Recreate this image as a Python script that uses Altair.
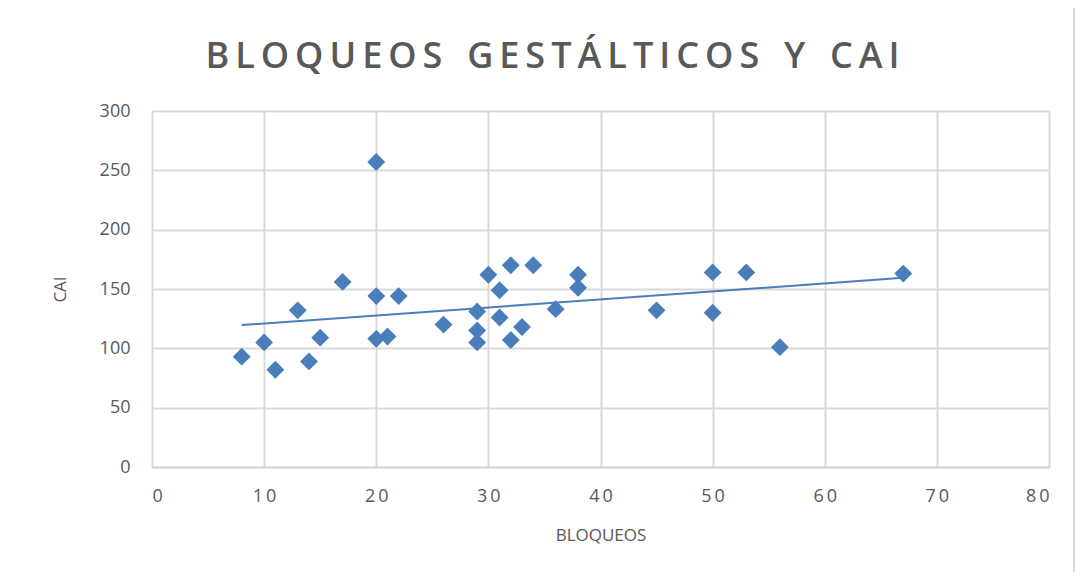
import altair as alt
import pandas as pd

bloqueos = [8, 10, 11, 13, 14, 15, 17, 20, 20, 20, 21, 22, 26, 29, 29, 29, 30, 31, 31, 32, 32, 33, 34, 36, 38, 38, 45, 50, 50, 53, 56, 67]
cai = [93, 105, 82, 132, 89, 109, 156, 257, 144, 108, 110, 144, 120, 131, 115, 105, 162, 149, 126, 170, 107, 118, 170, 133, 162, 151, 132, 164, 130, 164, 101, 163]

x_ticks = [0, 10, 20, 30, 40, 50, 60, 70, 80]
y_ticks = [0, 50, 100, 150, 200, 250, 300]

title_text = "BLOQUEOS  GESTÁLTICOS  Y  CAI"

df = pd.DataFrame({"BLOQUEOS": bloqueos, "CAI": cai})

BLUE = "#4A7EBB"
GRAY = "#595959"
GRID = "#D9D9D9"
FONT = "Open Sans"

# letter-spaced rendering of the title (narrow spaces between letters, wider gaps between words)
spaced_title = "\u00a0\u2006\u00a0".join("\u2006".join(w) for w in title_text.split())

x_enc = alt.X("BLOQUEOS:Q",
              scale=alt.Scale(domain=[0, 80], nice=False),
              axis=alt.Axis(values=x_ticks, title="BLOQUEOS", labelPadding=20, titlePadding=22,
                            labelExpr="replace(datum.label, /(\\d)(?=\\d)/g, '$1\u2009')"))
y_enc = alt.Y("CAI:Q",
              scale=alt.Scale(domain=[0, 300], nice=False),
              axis=alt.Axis(values=y_ticks, title="CAI", labelPadding=22, titlePadding=30))

points = alt.Chart(df).mark_point(shape="diamond", filled=True, size=320, color=BLUE, opacity=1).encode(
    x=x_enc, y=y_enc)

trend = alt.Chart(df).transform_regression("BLOQUEOS", "CAI").mark_line(color=BLUE, strokeWidth=2).encode(
    x="BLOQUEOS:Q", y="CAI:Q")

border = alt.Chart(df).mark_rect(fill=None, stroke=GRID, strokeWidth=1.5, clip=False).encode(
    x=alt.value(-147), x2=alt.value(1066 - 144), y=alt.value(-104), y2=alt.value(462))

chart = alt.layer(points, trend, border).properties(
    width=897, height=356,
    autosize=alt.AutoSizeParams(type="none"),
    padding={"left": 144, "top": 103, "right": 29, "bottom": 105},
    title=alt.TitleParams(spaced_title, font=FONT, fontSize=36, fontWeight=600,
                          color=GRAY, anchor="middle", offset=0, dy=70, dx=-48),
).configure_view(stroke=None).configure_axis(
    grid=True, gridColor=GRID, gridWidth=2, domain=False, ticks=False,
    labelFont=FONT, labelFontSize=18, labelColor=GRAY,
    titleFont=FONT, titleFontSize=17, titleFontWeight="normal", titleColor=GRAY,
).configure_axisX(domain=True, domainColor=GRID, domainWidth=2)

chart.save("out.html", embed_options={"renderer": "svg", "actions": False})
